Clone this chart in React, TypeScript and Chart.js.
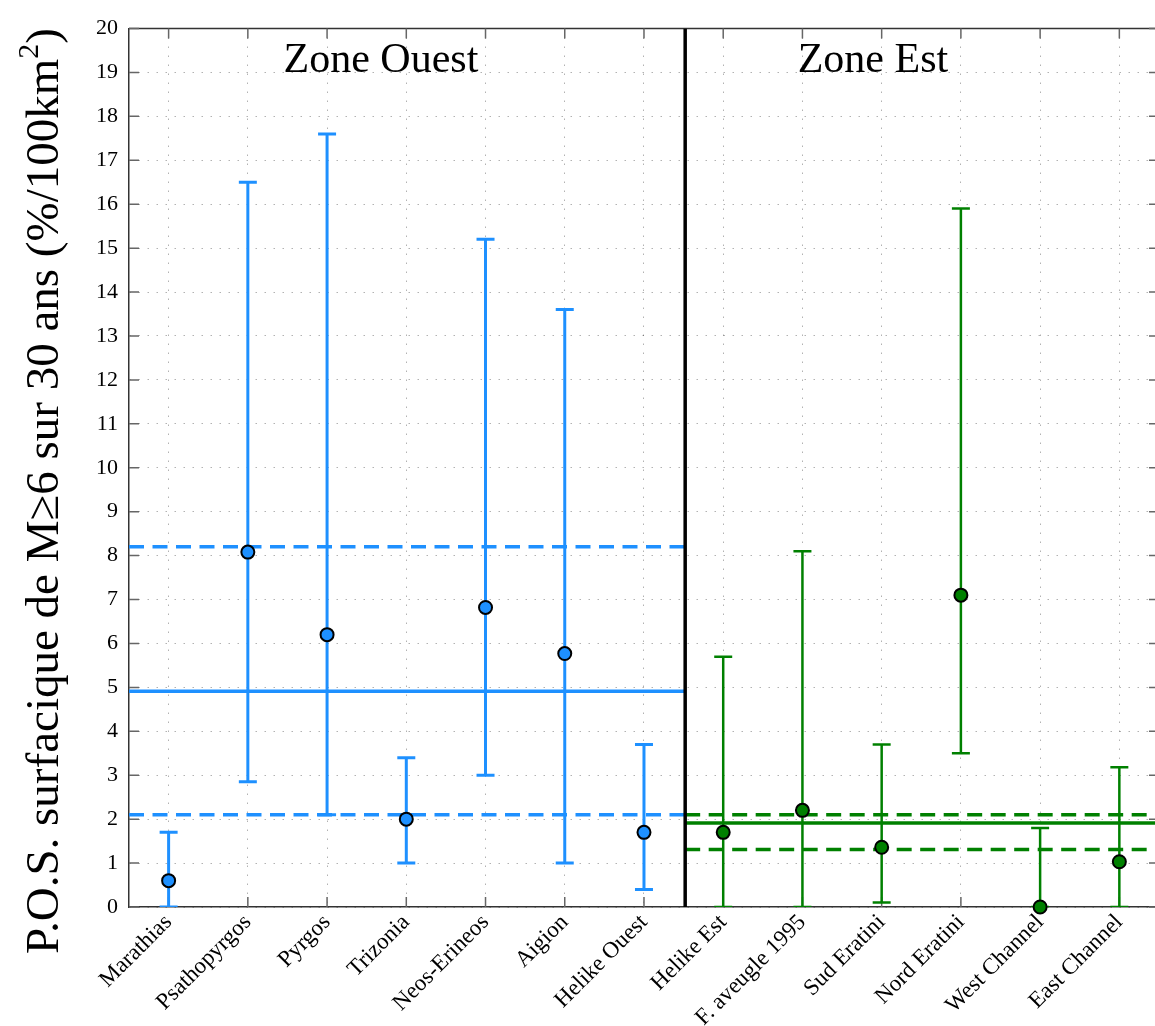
import React, { useEffect, useRef } from 'react';
import { Chart, registerables } from 'chart.js';

Chart.register(...registerables);

// ---- data ----
const categories = [
  'Marathias', 'Psathopyrgos', 'Pyrgos', 'Trizonia', 'Neos-Erineos', 'Aigion', 'Helike Ouest',
  'Helike Est', 'F. aveugle 1995', 'Sud Eratini', 'Nord Eratini', 'West Channel', 'East Channel',
];
const westValues = [0.6, 8.08, 6.2, 2.0, 6.82, 5.77, 1.7];
const westLow = [0, 2.85, 2.1, 1.0, 3.0, 1.0, 0.4];
const westHigh = [1.7, 16.5, 17.6, 3.4, 15.2, 13.6, 3.7];
const eastValues = [1.7, 2.2, 1.36, 7.1, 0, 1.03];
const eastLow = [0, 0, 0.1, 3.5, 0, 0];
const eastHigh = [5.7, 8.1, 3.7, 15.9, 1.8, 3.18];
const westMean = 4.91;
const westBand = [2.1, 8.2];
const eastMean = 1.91;
const eastBand = [1.31, 2.1];
const zoneLabels = ['Zone Ouest', 'Zone Est'];
const zoneLabelX = [2.68, 8.89];
const zoneLabelY = 19.0;
const yMin = 0;
const yMax = 20;
const divider = 6.52;
const xMin = -0.5;
const xMax = 12.45;
const yTitle = 'P.O.S. surfacique de M\u22656 sur 30 ans (%/100km';

const BLUE = 'rgb(30,144,255)';
const GREEN = 'rgb(0,128,0)';
const FONT = '"Liberation Serif", "Times New Roman", serif';

const westOffset = 0;
const eastOffset = westValues.length;

function errorBarData(low: number[], high: number[], offset: number) {
  const out: any[] = [];
  low.forEach((l, i) => {
    out.push({ x: i + offset, y: l });
    out.push({ x: i + offset, y: high[i] });
    out.push({ x: i + offset, y: null });
  });
  return out;
}

const framePlugin = {
  id: 'frame',
  beforeDatasetsDraw(chart: any) {
    const { ctx, chartArea: a, scales } = chart;
    const x = scales.x;
    const y = scales.y;
    const right = x.getPixelForValue(categories.length - 0.5);
    ctx.save();
    ctx.strokeStyle = '#333';
    ctx.lineWidth = 1.5;
    ctx.beginPath();
    ctx.moveTo(a.left, a.top);
    ctx.lineTo(right, a.top);
    ctx.stroke();
    ctx.strokeStyle = '#666';
    ctx.lineWidth = 1.5;
    ctx.beginPath();
    categories.forEach((_, i) => {
      const px = x.getPixelForValue(i);
      ctx.moveTo(px, a.bottom);
      ctx.lineTo(px, a.bottom - 10);
      ctx.moveTo(px, a.top);
      ctx.lineTo(px, a.top + 10);
    });
    for (let v = yMin; v <= yMax; v++) {
      const py = y.getPixelForValue(v);
      ctx.moveTo(a.left, py);
      ctx.lineTo(a.left + 10, py);
      ctx.moveTo(right - 10, py);
      ctx.lineTo(right, py);
    }
    ctx.stroke();
    ctx.restore();
  },
  afterDraw(chart: any) {
    const { ctx, scales } = chart;
    const x = scales.x;
    const y = scales.y;
    ctx.save();
    ctx.fillStyle = '#000';
    ctx.font = `42px ${FONT}`;
    ctx.textAlign = 'center';
    ctx.textBaseline = 'alphabetic';
    zoneLabels.forEach((t, i) => {
      ctx.fillText(t, x.getPixelForValue(zoneLabelX[i]), y.getPixelForValue(zoneLabelY));
    });
    // y title
    ctx.translate(58, 491);
    ctx.rotate(-Math.PI / 2);
    const mainFont = `47px ${FONT}`;
    const supFont = `30px ${FONT}`;
    ctx.font = mainFont;
    const w1 = ctx.measureText(yTitle).width;
    ctx.font = supFont;
    const w2 = ctx.measureText('2').width;
    ctx.font = mainFont;
    const w3 = ctx.measureText(')').width;
    const total = w1 + w2 + w3;
    let cx = -total / 2;
    ctx.textAlign = 'left';
    ctx.fillText(yTitle, cx, 0);
    cx += w1;
    ctx.font = supFont;
    ctx.fillText('2', cx, -20);
    cx += w2;
    ctx.font = mainFont;
    ctx.fillText(')', cx, 0);
    ctx.restore();
  },
};

export default function App() {
  const ref = useRef<HTMLCanvasElement>(null);
  useEffect(() => {
    if (!ref.current) return;
    const meanLine = (xa: number, xb: number, v: number, color: string, dashed: boolean) => ({
      type: 'line',
      data: [{ x: xa, y: v }, { x: xb, y: v }],
      borderColor: color,
      borderWidth: 3.5,
      borderDash: dashed ? [15, 8.5] : [],
      pointRadius: 0,
      showLine: true,
      order: 5,
    });
    const chart = new Chart(ref.current, {
      type: 'scatter',
      data: {
        datasets: [
          {
            type: 'scatter',
            data: westValues.map((v, i) => ({ x: i + westOffset, y: v })),
            backgroundColor: BLUE,
            borderColor: '#000',
            borderWidth: 2,
            pointRadius: 6.5,
            clip: false,
            order: 0,
          } as any,
          {
            type: 'scatter',
            data: eastValues.map((v, i) => ({ x: i + eastOffset, y: v })),
            backgroundColor: GREEN,
            borderColor: '#000',
            borderWidth: 2,
            pointRadius: 6.5,
            clip: false,
            order: 0,
          } as any,
          {
            type: 'line',
            data: errorBarData(westLow, westHigh, westOffset),
            borderColor: BLUE,
            borderWidth: 3,
            pointStyle: 'line',
            pointRadius: 9,
            pointBorderWidth: 3,
            pointBorderColor: BLUE,
            spanGaps: false,
            showLine: true,
            order: 2,
          } as any,
          {
            type: 'line',
            data: errorBarData(eastLow, eastHigh, eastOffset),
            borderColor: GREEN,
            borderWidth: 2.5,
            pointStyle: 'line',
            pointRadius: 9,
            pointBorderWidth: 2.5,
            pointBorderColor: GREEN,
            spanGaps: false,
            showLine: true,
            order: 2,
          } as any,
          meanLine(xMin, divider, westMean, BLUE, false) as any,
          meanLine(xMin, divider, westBand[0], BLUE, true) as any,
          meanLine(xMin, divider, westBand[1], BLUE, true) as any,
          meanLine(divider, categories.length - 0.5, eastMean, GREEN, false) as any,
          meanLine(divider, categories.length - 0.5, eastBand[0], GREEN, true) as any,
          meanLine(divider, categories.length - 0.5, eastBand[1], GREEN, true) as any,
          {
            type: 'line',
            data: [{ x: divider, y: yMin }, { x: divider, y: yMax }],
            borderColor: '#000',
            borderWidth: 3.5,
            pointRadius: 0,
            showLine: true,
            order: 1,
          } as any,
        ],
      },
      options: {
        animation: false,
        responsive: false,
        devicePixelRatio: 1,
        layout: { autoPadding: false, padding: { left: 0, right: 0, top: 28.5, bottom: 0 } },
        plugins: { legend: { display: false }, tooltip: { enabled: false }, title: { display: false } },
        scales: {
          x: {
            type: 'linear',
            min: xMin,
            max: xMax,
            afterBuildTicks: (scale: any) => {
              scale.ticks = categories.map((_, i) => ({ value: i }));
            },
            afterFit: (scale: any) => {
              scale.height = 119;
              scale.paddingLeft = 0;
              scale.paddingRight = 0;
            },
            ticks: {
              autoSkip: false,
              maxRotation: 45,
              minRotation: 45,
              padding: 2,
              color: '#000',
              font: { family: FONT, size: 23 },
              callback: (v: any) => categories[Math.round(Number(v))] ?? '',
            },
            grid: { color: 'rgba(0,0,0,0.3)', lineWidth: 1, drawTicks: false },
            border: { display: true, color: '#333', width: 1.5, dash: [1.5, 7.5] },
          },
          y: {
            type: 'linear',
            min: yMin,
            max: yMax,
            afterFit: (scale: any) => {
              scale.width = 129;
              scale.paddingTop = 0;
              scale.paddingBottom = 0;
            },
            ticks: {
              stepSize: 1,
              padding: 11,
              color: '#000',
              font: { family: FONT, size: 22 },
            },
            grid: { color: 'rgba(0,0,0,0.3)', lineWidth: 1, drawTicks: false },
            border: { display: true, color: '#333', width: 1.5, dash: [1.5, 7.5] },
          },
        },
      } as any,
      plugins: [framePlugin],
    });
    return () => chart.destroy();
  }, []);
  return (
    <div style={{ position: 'absolute', left: 0, top: 0, width: 1155, height: 1026, background: '#fff' }}>
      <canvas ref={ref} width={1155} height={1026} style={{ width: 1155, height: 1026 }} />
    </div>
  );
}
